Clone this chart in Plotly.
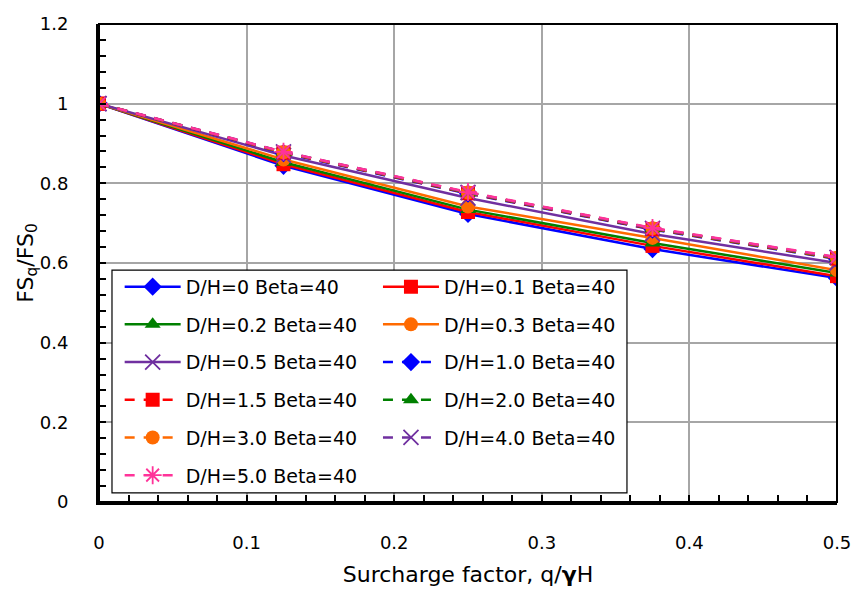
import plotly.graph_objects as go

# Surcharge factor q/(gamma*H)
surcharge = [0, 0.125, 0.25, 0.375, 0.5]

# FSq/FS0 for each D/H ratio (Beta = 40)
fs_dh_0 = [1, 0.844, 0.723, 0.635, 0.562]
fs_dh_01 = [1, 0.848, 0.728, 0.643, 0.567]
fs_dh_02 = [1, 0.853, 0.734, 0.650, 0.575]
fs_dh_03 = [1, 0.860, 0.742, 0.663, 0.582]
fs_dh_05 = [1, 0.870, 0.763, 0.673, 0.600]
fs_dh_10 = [1, 0.876, 0.774, 0.684, 0.610]
fs_dh_15 = [1, 0.877, 0.775, 0.685, 0.611]
fs_dh_20 = [1, 0.878, 0.776, 0.686, 0.612]
fs_dh_30 = [1, 0.878, 0.777, 0.687, 0.613]
fs_dh_40 = [1, 0.879, 0.777, 0.687, 0.614]
fs_dh_50 = [1, 0.879, 0.778, 0.688, 0.615]

series_names = [
    "D/H=0 Beta=40", "D/H=0.1 Beta=40", "D/H=0.2 Beta=40", "D/H=0.3 Beta=40",
    "D/H=0.5 Beta=40", "D/H=1.0 Beta=40", "D/H=1.5 Beta=40", "D/H=2.0 Beta=40",
    "D/H=3.0 Beta=40", "D/H=4.0 Beta=40", "D/H=5.0 Beta=40",
]
series_values = [fs_dh_0, fs_dh_01, fs_dh_02, fs_dh_03, fs_dh_05, fs_dh_10,
                 fs_dh_15, fs_dh_20, fs_dh_30, fs_dh_40, fs_dh_50]

BLUE, RED, GREEN, ORANGE, PURPLE, PINK = (
    "#0000FF", "#FF0000", "#008000", "#FF6A00", "#7030A0", "#FF3399")

DASH = "10px,9px"
styles = [
    (BLUE, "diamond", "solid"),
    (RED, "square", "solid"),
    (GREEN, "triangle-up", "solid"),
    (ORANGE, "circle", "solid"),
    (PURPLE, "x-thin-open", "solid"),
    (BLUE, "diamond", DASH),
    (RED, "square", DASH),
    (GREEN, "triangle-up", DASH),
    (ORANGE, "circle", DASH),
    (PURPLE, "x-thin-open", DASH),
    (PINK, "asterisk-open", DASH),
]

fig = go.Figure()
for i, (name, vals) in enumerate(zip(series_names, series_values)):
    color, symbol, dash = styles[i]
    open_sym = symbol.endswith("open")
    fig.add_trace(go.Scatter(
        x=surcharge, y=vals, name=name, mode="lines+markers",
        line=dict(color=color, width=2.5, dash=dash),
        marker=dict(symbol=symbol, size=14 if not open_sym else 15,
                    color=color,
                    line=dict(color=color, width=1.8 if open_sym else 0)),
        legend="legend" if i % 2 == 0 else "legend2",
        legendgroup=f"g{i}",
    ))

FONT = "DejaVu Sans"
legend_common = dict(
    yanchor="top", xanchor="left", y=0.49,
    bgcolor="rgba(0,0,0,0)", borderwidth=0,
    font=dict(family=FONT, size=19, color="#000"),
    tracegroupgap=10, itemwidth=56, traceorder="grouped",
)

fig.update_layout(
    width=855, height=593,
    margin=dict(l=99, r=18, t=24, b=91, autoexpand=False),
    paper_bgcolor="white", plot_bgcolor="white",
    font=dict(family=FONT, size=18, color="#000"),
    showlegend=True,
    legend=dict(x=0.028, **legend_common),
    legend2=dict(x=0.378, **legend_common),
    shapes=[
        # legend frame
        dict(type="rect", xref="paper", yref="paper",
             x0=0.0176, x1=0.7154, y0=0.019, y1=0.485,
             fillcolor="white", line=dict(color="black", width=1.2),
             layer="above"),
        # plot frame
        dict(type="rect", xref="paper", yref="paper",
             x0=0, x1=1, y0=0, y1=1,
             line=dict(color="black", width=2), layer="above"),
    ],
    annotations=[
        # vertical axis title
        dict(text="FS<sub>q</sub>/FS<sub>0</sub>", textangle=-90,
             xref="paper", yref="paper", x=-0.098, y=0.5,
             xanchor="center", yanchor="middle", showarrow=False,
             font=dict(family=FONT, size=22, color="#000")),
    ],
    xaxis=dict(
        range=[0, 0.5], dtick=0.1, tick0=0, automargin=False,
        showgrid=True, gridcolor="#A6A6A6", gridwidth=1.5,
        showline=True, linecolor="black", linewidth=3,
        ticks="inside", ticklen=7, tickwidth=2, tickcolor="black",
        minor=dict(dtick=0.02, ticks="inside", ticklen=7, tickwidth=2,
                   tickcolor="black", showgrid=False),
        zeroline=False,
        tickfont=dict(family=FONT, size=18),
        ticklabelstandoff=22,
        title=dict(text="Surcharge factor, q/<b>γ</b>H",
                   font=dict(family=FONT, size=22), standoff=16),
    ),
    yaxis=dict(
        range=[0, 1.2], dtick=0.2, tick0=0, automargin=False,
        showgrid=True, gridcolor="#A6A6A6", gridwidth=1.5,
        showline=True, linecolor="black", linewidth=3,
        ticks="inside", ticklen=7, tickwidth=2, tickcolor="black",
        minor=dict(dtick=0.04, ticks="inside", ticklen=7, tickwidth=2,
                   tickcolor="black", showgrid=False),
        zeroline=False,
        tickfont=dict(family=FONT, size=18),
        ticklabelstandoff=24,
    ),
)

fig.write_html("out.html")
